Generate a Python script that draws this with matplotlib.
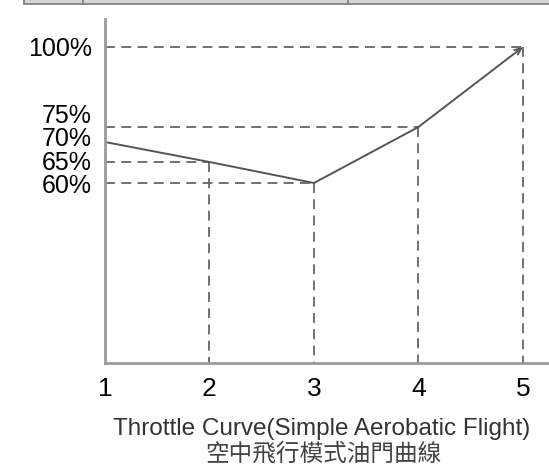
import numpy as np
import matplotlib
matplotlib.use("Agg")
import matplotlib.pyplot as plt
from matplotlib.patches import Rectangle
from matplotlib.lines import Line2D

# throttle curve points (stick position -> throttle %)
stick_pos = [1, 2, 3, 4, 5]
throttle = [70, 65, 60, 75, 100]

ytick_vals = [100, 75, 70, 65, 60]
ytick_labels = ["100%", "75%", "70%", "65%", "60%"]
xtick_labels = ["1", "2", "3", "4", "5"]

title_en = "Throttle Curve(Simple Aerobatic Flight)"
title_zh = "空中飛行模式油門曲線"

# the drawing is schematic: the % axis is not linear, so use a piecewise scale
scale_vals = [0, 60, 65, 70, 75, 100, 110]
scale_pos = [0, 180, 201, 221, 236, 316, 344]

def fwd(v):
    return np.interp(v, scale_vals, scale_pos)

def inv(p):
    return np.interp(p, scale_pos, scale_vals)

# label nudges (points) where the labels were squeezed apart
label_shift = {75: 10.0, 70: 3.6, 65: 0.8, 60: -0.4}

plt.rcParams['font.family'] = ['Liberation Sans', 'DejaVu Sans']

fig = plt.figure(figsize=(5.49, 4.66), dpi=100)
W, H = 549.0, 466.0
ax = fig.add_axes([105 / W, 103 / H, 444 / W, 344 / H])
ax.set_yscale('function', functions=(fwd, inv))
ax.set_xlim(1, 5.25)
ax.set_ylim(0, 110)

dash = (0, (5.5, 3.5))
for xv, yv in zip(stick_pos[1:], throttle[1:]):
    ax.plot([stick_pos[0], xv], [yv, yv], color='#666666', lw=1.3, ls=dash)
    ax.plot([xv, xv], [yv, 0], color='#666666', lw=1.3, ls=dash)

ax.plot(stick_pos[:4], throttle[:4], color='#555555', lw=1.4,
        solid_capstyle='round', solid_joinstyle='round')
ax.annotate('', xy=(stick_pos[4], throttle[4]), xytext=(stick_pos[3], throttle[3]),
            arrowprops=dict(arrowstyle='->,head_length=0.45,head_width=0.2',
                            color='#555555', lw=1.4, shrinkA=0, shrinkB=0))

for s in ['top', 'right']:
    ax.spines[s].set_visible(False)
for s in ['left', 'bottom']:
    ax.spines[s].set_color('#9a9a9a')
    ax.spines[s].set_linewidth(2)

ax.set_xticks(stick_pos, xtick_labels)
ax.tick_params(axis='x', length=0, pad=10, labelsize=19, labelcolor='#000000')
for lab in ax.get_xticklabels()[:1]:
    lab.set_x(1.03)
ax.set_yticks([])
for v, lab in zip(ytick_vals, ytick_labels):
    ax.annotate(lab, xy=(0, v), xycoords=('axes fraction', 'data'),
                xytext=(-9.5, label_shift.get(v, 0.0)), textcoords='offset points',
                ha='right', va='center_baseline', fontsize=18, color='#000000')

fig.text(322 / W, (H - 435) / H, title_en, ha='center', va='baseline',
         fontsize=17.5, color='#333333')
fig.text(323 / W, (H - 454) / H, title_zh, ha='center', va='center',
         fontsize=17, color='#444444',
         family=['Noto Sans CJK TC', 'DejaVu Sans'])

# edge of the table row above the chart
fig.add_artist(Rectangle((24 / W, (H - 4) / H), 1.0, 10 / H, transform=fig.transFigure,
                         facecolor='#d4d4d4', edgecolor='#7a7a7a', lw=1.2))
for xd in [83, 348]:
    fig.add_artist(Line2D([xd / W, xd / W], [(H - 4) / H, 1.0], transform=fig.transFigure,
                          color='#7a7a7a', lw=1.2))

fig.savefig('out.png', dpi=100)
